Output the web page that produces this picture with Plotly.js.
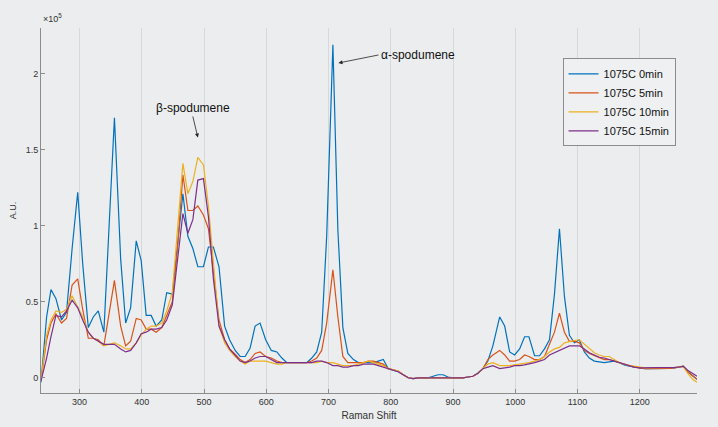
<!DOCTYPE html>
<html>
<head>
<meta charset="utf-8">
<script src="https://cdn.plot.ly/plotly-3.0.1.min.js"></script>
<style>
  html, body { margin: 0; padding: 0; background: #ebedee; }
  #myDiv { width: 718px; height: 427px; }
</style>
</head>
<body>
<div id="myDiv"></div>
<script>
// Raman shift (cm-1) shared by all four spectra
const ramanShift = [238, 247, 254, 262, 271, 279, 288, 297, 305, 314, 322, 330, 339, 347, 356, 366, 374, 382, 391, 399,
  407, 415, 423, 432, 440, 449, 457, 466, 474, 482, 490, 499, 507, 515, 524, 533, 541, 550, 558, 566,
  574, 582, 590, 599, 608, 617, 625, 633, 641, 649, 657, 665, 673, 681, 689, 697, 707, 715, 723, 731,
  740, 748, 756, 764, 772, 780, 788, 796, 804, 812, 820, 828, 836, 844, 852, 860, 868, 876, 884, 892,
  900, 908, 916, 924, 932, 940, 948, 956, 964, 975, 983, 991, 999, 1007, 1015, 1022, 1031, 1039, 1047, 1055,
  1063, 1071, 1079, 1087, 1095, 1103, 1111, 1119, 1127, 1135, 1143, 1151, 1159, 1167, 1175, 1183, 1191, 1200, 1208, 1216,
  1224, 1232, 1240, 1248, 1256, 1262, 1270, 1277, 1285, 1292];

// intensities, in units of 1e5
const min0 = [-0.03, 0.40, 0.58, 0.52, 0.38, 0.43, 0.85, 1.22, 0.75, 0.33, 0.40, 0.44, 0.30, 0.95, 1.71, 0.78, 0.36, 0.46, 0.90, 0.77,
  0.41, 0.41, 0.34, 0.38, 0.56, 0.55, 0.86, 1.21, 0.93, 0.85, 0.73, 0.73, 0.86, 0.86, 0.73, 0.34, 0.25, 0.18, 0.14, 0.14,
  0.195, 0.34, 0.36, 0.25, 0.18, 0.17, 0.13, 0.10, 0.10, 0.10, 0.10, 0.10, 0.13, 0.17, 0.30, 0.93, 2.19, 0.97, 0.33, 0.16,
  0.12, 0.10, 0.10, 0.10, 0.10, 0.11, 0.12, 0.06, 0.05, 0.04, 0.02, 0.00, -0.005, 0.0, 0.0, 0.0, 0.01, 0.02, 0.02, 0.005,
  0.0, 0.0, 0.0, 0.005, 0.01, 0.03, 0.06, 0.11, 0.21, 0.40, 0.34, 0.17, 0.15, 0.19, 0.27, 0.27, 0.145, 0.145, 0.19, 0.25,
  0.55, 0.98, 0.535, 0.28, 0.23, 0.25, 0.17, 0.13, 0.11, 0.105, 0.10, 0.105, 0.11, 0.10, 0.085, 0.077, 0.07, 0.065, 0.06, 0.06,
  0.06, 0.06, 0.06, 0.062, 0.065, 0.07, 0.077, 0.04, 0.01, -0.01];
const min5 = [-0.02, 0.25, 0.36, 0.42, 0.36, 0.39, 0.61, 0.65, 0.45, 0.26, 0.26, 0.25, 0.21, 0.40, 0.64, 0.34, 0.21, 0.24, 0.39, 0.38,
  0.32, 0.32, 0.30, 0.33, 0.41, 0.50, 0.84, 1.335, 1.10, 1.10, 1.13, 1.07, 0.98, 0.69, 0.38, 0.25, 0.19, 0.155, 0.12, 0.10,
  0.12, 0.16, 0.17, 0.14, 0.13, 0.11, 0.10, 0.10, 0.10, 0.10, 0.10, 0.10, 0.11, 0.13, 0.18, 0.36, 0.71, 0.40, 0.14, 0.10,
  0.10, 0.10, 0.10, 0.11, 0.11, 0.10, 0.09, 0.06, 0.05, 0.045, 0.02, 0.00, -0.005, 0.0, 0.0, 0.0, 0.0, 0.0, 0.0, 0.0,
  0.0, 0.0, 0.0, 0.005, 0.01, 0.03, 0.06, 0.12, 0.15, 0.18, 0.15, 0.11, 0.11, 0.12, 0.15, 0.14, 0.12, 0.12, 0.14, 0.22,
  0.30, 0.425, 0.30, 0.24, 0.24, 0.23, 0.18, 0.16, 0.145, 0.13, 0.12, 0.12, 0.11, 0.095, 0.085, 0.077, 0.07, 0.065, 0.06, 0.06,
  0.06, 0.06, 0.06, 0.062, 0.065, 0.07, 0.077, 0.04, 0.01, -0.01];
const min10 = [-0.02, 0.28, 0.38, 0.44, 0.43, 0.45, 0.54, 0.47, 0.40, 0.30, 0.26, 0.24, 0.21, 0.22, 0.23, 0.21, 0.19, 0.19, 0.23, 0.28,
  0.32, 0.34, 0.34, 0.36, 0.44, 0.56, 0.95, 1.41, 1.21, 1.29, 1.45, 1.40, 1.13, 0.73, 0.34, 0.23, 0.18, 0.14, 0.11, 0.09,
  0.11, 0.11, 0.11, 0.11, 0.10, 0.09, 0.09, 0.10, 0.10, 0.10, 0.10, 0.10, 0.10, 0.10, 0.11, 0.10, 0.10, 0.09, 0.08, 0.08,
  0.08, 0.09, 0.10, 0.11, 0.10, 0.09, 0.08, 0.06, 0.05, 0.045, 0.02, 0.00, -0.005, 0.0, 0.0, 0.0, 0.0, 0.0, 0.0, 0.0,
  0.0, 0.0, 0.0, 0.005, 0.01, 0.03, 0.06, 0.09, 0.10, 0.08, 0.08, 0.08, 0.085, 0.09, 0.095, 0.10, 0.11, 0.12, 0.14, 0.17,
  0.19, 0.20, 0.23, 0.24, 0.245, 0.25, 0.22, 0.19, 0.165, 0.15, 0.14, 0.14, 0.12, 0.10, 0.09, 0.08, 0.077, 0.07, 0.065, 0.065,
  0.065, 0.065, 0.065, 0.065, 0.068, 0.07, 0.075, 0.03, -0.01, -0.03];
const min15 = [-0.02, 0.13, 0.27, 0.41, 0.40, 0.44, 0.51, 0.46, 0.38, 0.30, 0.26, 0.24, 0.22, 0.22, 0.22, 0.19, 0.17, 0.18, 0.23, 0.29,
  0.30, 0.32, 0.32, 0.33, 0.38, 0.48, 0.78, 1.08, 0.95, 1.04, 1.30, 1.31, 1.06, 0.65, 0.34, 0.25, 0.19, 0.15, 0.11, 0.10,
  0.11, 0.13, 0.14, 0.14, 0.12, 0.10, 0.10, 0.10, 0.10, 0.10, 0.10, 0.10, 0.10, 0.11, 0.11, 0.10, 0.08, 0.08, 0.07, 0.07,
  0.08, 0.08, 0.09, 0.09, 0.09, 0.08, 0.07, 0.06, 0.05, 0.04, 0.02, 0.00, -0.005, 0.0, 0.0, 0.0, 0.0, 0.0, 0.0, 0.0,
  0.0, 0.0, 0.0, 0.005, 0.01, 0.03, 0.06, 0.07, 0.08, 0.06, 0.065, 0.07, 0.08, 0.08, 0.085, 0.09, 0.10, 0.11, 0.12, 0.15,
  0.165, 0.18, 0.20, 0.21, 0.21, 0.21, 0.19, 0.165, 0.15, 0.135, 0.13, 0.12, 0.11, 0.095, 0.085, 0.077, 0.07, 0.065, 0.065, 0.065,
  0.065, 0.065, 0.065, 0.065, 0.068, 0.07, 0.075, 0.05, 0.03, 0.01];

const seriesNames = ['1075C 0min', '1075C 5min', '1075C 10min', '1075C 15min'];
const seriesColors = ['#0072BD', '#D95319', '#EDB120', '#7E2F8E'];
const yTickVals = [0, 0.5, 1, 1.5, 2];
const yTickText = ['0', '0.5', '1', '1.5', '2'];
const xTickVals = [300, 400, 500, 600, 700, 800, 900, 1000, 1100, 1200];

const font = 'Liberation Sans, Arial, Helvetica, sans-serif';
const allY = [min0, min5, min10, min15];

var data = allY.map(function (ys, i) {
  return {
    x: ramanShift,
    y: ys,
    name: seriesNames[i],
    type: 'scatter',
    mode: 'lines',
    line: {color: seriesColors[i], width: 1.2}
  };
});

var layout = {
  width: 718,
  height: 427,
  paper_bgcolor: '#ebedee',
  plot_bgcolor: '#ebedee',
  margin: {l: 41, r: 21, t: 28, b: 34},
  font: {family: font, color: '#262626'},
  showlegend: true,
  legend: {
    x: 0.795, y: 0.917, xanchor: 'left', yanchor: 'top',
    bgcolor: '#eef0f1', bordercolor: '#8c8c8c', borderwidth: 1,
    font: {family: font, size: 11, color: '#111'},
    itemwidth: 30
  },
  xaxis: {
    range: [238, 1292],
    tickvals: xTickVals,
    ticks: 'inside', ticklen: 4, tickcolor: '#8c8c8c',
    showgrid: true, gridcolor: '#d6d8d9', gridwidth: 1,
    zeroline: false,
    showline: true, linecolor: '#8c8c8c', linewidth: 1,
    tickfont: {size: 9, color: '#333'},
    title: {text: 'Raman Shift', font: {size: 10, color: '#333'}, standoff: 6}
  },
  yaxis: {
    range: [-0.1, 2.3],
    tickvals: yTickVals,
    ticktext: yTickText,
    ticks: 'inside', ticklen: 4, tickcolor: '#8c8c8c',
    showgrid: false,
    zeroline: false,
    showline: true, linecolor: '#8c8c8c', linewidth: 1,
    tickfont: {size: 9, color: '#333'},
    title: {text: 'A.U.', font: {size: 9, color: '#333'}, standoff: 7}
  },
  annotations: [
    {
      xref: 'paper', yref: 'paper', x: 0, y: 1.005, xanchor: 'left', yanchor: 'bottom',
      text: '×10<sup>5</sup>', showarrow: false, font: {size: 9, color: '#333'}
    },
    {
      x: 716, y: 2.07, xref: 'x', yref: 'y',
      text: 'α-spodumene', showarrow: true, xanchor: 'left',
      ax: 40, ay: -8, arrowhead: 2, arrowsize: 1, arrowwidth: 0.8, arrowcolor: '#222',
      font: {size: 12, color: '#111'}
    },
    {
      x: 490, y: 1.58, xref: 'x', yref: 'y',
      text: 'β-spodumene', showarrow: true, yanchor: 'bottom',
      ax: -5, ay: -21, arrowhead: 2, arrowsize: 1, arrowwidth: 0.8, arrowcolor: '#222',
      font: {size: 12, color: '#111'}
    }
  ]
};

Plotly.newPlot('myDiv', data, layout, {displayModeBar: false});
</script>
</body>
</html>
